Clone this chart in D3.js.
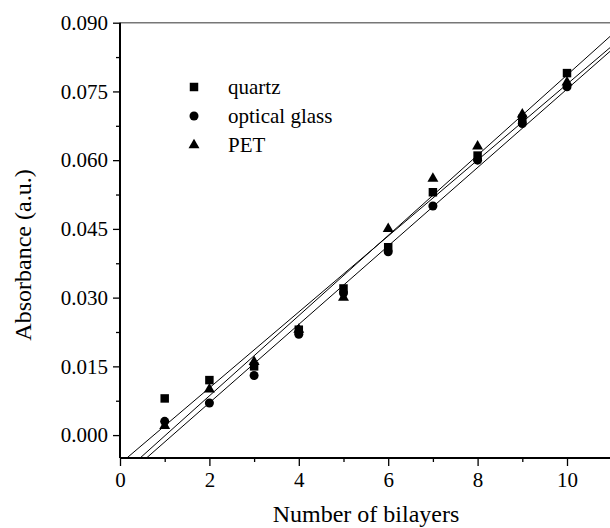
<!DOCTYPE html>
<html>
<head>
<meta charset="utf-8">
<script src="https://cdn.jsdelivr.net/npm/d3@7"></script>
<style>
	body { margin: 0; background: #fff; }
	svg text { font-family: "Liberation Serif", "Times New Roman", serif; fill: #000; }
</style>
</head>
<body>
<div id="chart"></div>
<script>
(function () {
	'use strict';

	var bilayers = [1, 2, 3, 4, 5, 6, 7, 8, 9, 10];
	var quartz = [0.008, 0.012, 0.015, 0.023, 0.032, 0.041, 0.053, 0.061, 0.069, 0.079];
	var opticalGlass = [0.003, 0.007, 0.013, 0.022, 0.031, 0.040, 0.050, 0.060, 0.068, 0.076];
	var pet = [0.002, 0.010, 0.016, 0.023, 0.030, 0.045, 0.056, 0.063, 0.070, 0.077];
	var seriesNames = ['quartz', 'optical glass', 'PET'];
	var xTicks = [0, 2, 4, 6, 8, 10];
	var yTicks = [0.000, 0.015, 0.030, 0.045, 0.060, 0.075, 0.090];

	var width = 610, height = 528;
	var left = 120, top = 22.7, bottom = 458, right = 610;

	var series = [
		{ name: seriesNames[0], values: quartz, symbol: d3.symbolSquare, size: 72 },
		{ name: seriesNames[1], values: opticalGlass, symbol: d3.symbolCircle, size: 64 },
		{ name: seriesNames[2], values: pet, symbol: d3.symbolTriangle, size: 52 }
	];

	var x = d3.scaleLinear().domain([0, 11]).range([left, left + 44.7 * 11]);
	var y = d3.scaleLinear().domain([-0.005, 0.090]).range([bottom, top]);

	var svg = d3.select('#chart')
		.append('svg')
		.attr('width', width)
		.attr('height', height);

	svg.append('defs')
		.append('clipPath')
		.attr('id', 'plot-clip')
		.append('rect')
		.attr('x', left)
		.attr('y', top)
		.attr('width', right - left)
		.attr('height', bottom - top);

	// least squares fit for each series
	function fit(values) {
		var mx = d3.mean(bilayers), my = d3.mean(values);
		var sxy = d3.sum(bilayers, function (b, i) { return (b - mx) * (values[i] - my); });
		var sxx = d3.sum(bilayers, function (b) { return (b - mx) * (b - mx); });
		var slope = sxy / sxx;
		return { slope: slope, intercept: my - slope * mx };
	}

	var lines = svg.append('g').attr('clip-path', 'url(#plot-clip)');
	series.forEach(function (s) {
		var f = fit(s.values);
		lines.append('line')
			.attr('x1', x(0))
			.attr('y1', y(f.intercept))
			.attr('x2', x(11))
			.attr('y2', y(f.intercept + f.slope * 11))
			.attr('stroke', '#000')
			.attr('stroke-width', 1);
	});

	// points
	series.forEach(function (s) {
		svg.append('g')
			.selectAll('path')
			.data(s.values)
			.enter()
			.append('path')
			.attr('d', d3.symbol().type(s.symbol).size(s.size))
			.attr('transform', function (d, i) {
				return 'translate(' + x(bilayers[i]) + ',' + y(d) + ')';
			})
			.attr('fill', '#000');
	});

	// top frame line
	svg.append('line')
		.attr('x1', left)
		.attr('x2', right)
		.attr('y1', top)
		.attr('y2', top)
		.attr('stroke', '#777')
		.attr('stroke-width', 1.5);

	var xAxis = svg.append('g')
		.attr('transform', 'translate(0,' + bottom + ')')
		.call(d3.axisBottom(x).tickValues(xTicks).tickSize(8).tickPadding(6).tickFormat(d3.format('d')));
	xAxis.append('g')
		.call(d3.axisBottom(x).tickValues([1, 3, 5, 7, 9]).tickSize(4).tickFormat(''));

	var yAxis = svg.append('g')
		.attr('transform', 'translate(' + left + ',0)')
		.call(d3.axisLeft(y).tickValues(yTicks).tickSize(7).tickPadding(5).tickFormat(d3.format('.3f')));
	yAxis.append('g')
		.call(d3.axisLeft(y).tickValues([0.0075, 0.0225, 0.0375, 0.0525, 0.0675, 0.0825]).tickSize(4).tickFormat(''));

	svg.selectAll('.domain')
		.attr('stroke', '#000')
		.attr('stroke-width', 2);
	svg.selectAll('.tick line')
		.attr('stroke', '#000')
		.attr('stroke-width', 1.3);
	svg.selectAll('.tick text')
		.attr('font-size', 21)
		.style('font-family', '"Liberation Serif", serif');
	// keep only the main axis lines
	xAxis.select('g .domain').remove();
	yAxis.select('g .domain').remove();
	xAxis.select('.domain').attr('d', 'M' + left + ',0H' + right);
	yAxis.select('.domain').attr('d', 'M0,' + bottom + 'V' + top);

	svg.append('text')
		.attr('x', 366)
		.attr('y', 522)
		.attr('text-anchor', 'middle')
		.attr('font-size', 24)
		.text('Number of bilayers');

	svg.append('text')
		.attr('transform', 'translate(31,255) rotate(-90)')
		.attr('text-anchor', 'middle')
		.attr('font-size', 24)
		.text('Absorbance (a.u.)');

	// legend
	var legend = svg.append('g');
	series.forEach(function (s, i) {
		var ly = 87 + i * 29;
		legend.append('path')
			.attr('d', d3.symbol().type(s.symbol).size(s.size))
			.attr('transform', 'translate(194,' + ly + ')')
			.attr('fill', '#000');
		legend.append('text')
			.attr('x', 228)
			.attr('y', ly + 7)
			.attr('font-size', 21)
			.text(s.name);
	});
}());
</script>
</body>
</html>
